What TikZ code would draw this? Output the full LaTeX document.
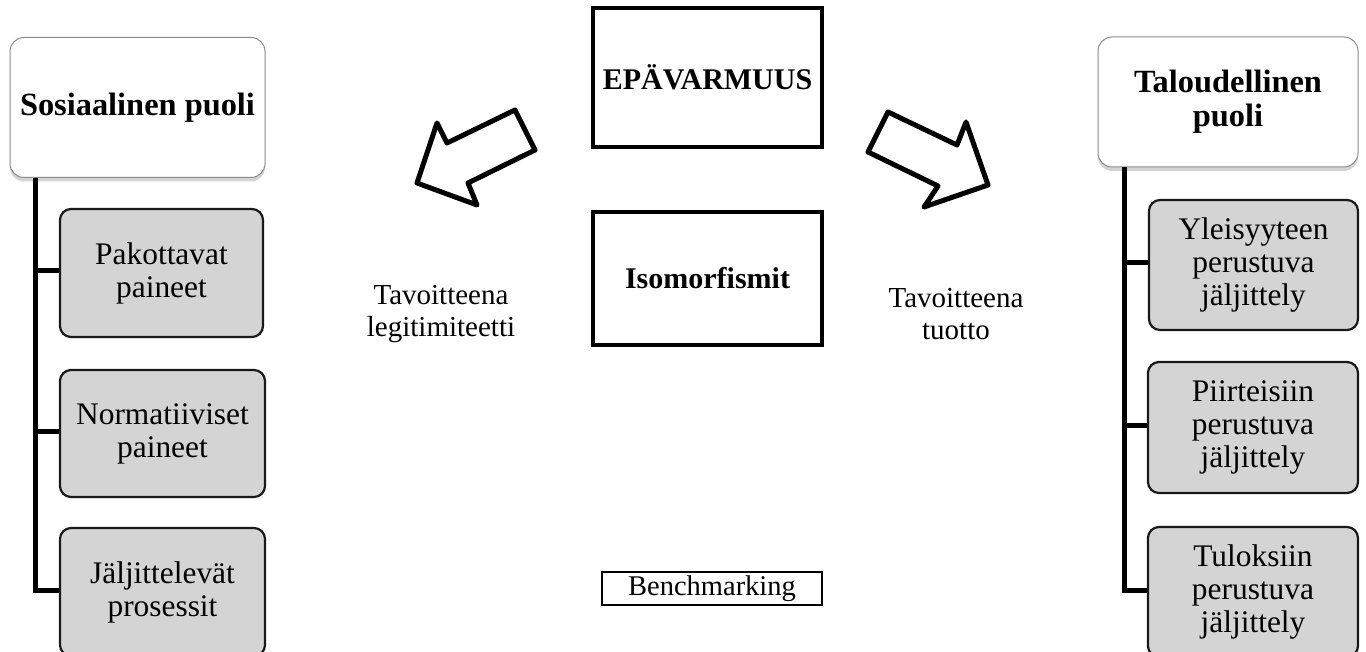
\documentclass[tikz,border=0pt]{standalone}
\usepackage{fontspec}
\setmainfont{Liberation Serif}
\usetikzlibrary{shadows}

\tikzset{
    header/.style={draw=black!45, line width=1pt, fill=white, rounded corners=14pt,
        align=center, font=\fontsize{32.4}{34}\selectfont\bfseries,
        drop shadow={shadow xshift=0pt, shadow yshift=-4pt, opacity=.35}},
    item/.style={draw=black!90, line width=2.2pt, fill=black!17, rounded corners=11pt,
        align=center, font=\fontsize{31.4}{33}\selectfont},
    centerbox/.style={draw, line width=3.5pt, align=center,
        font=\fontsize{30}{32}\selectfont\bfseries},
    goal/.style={align=center, font=\fontsize{29}{32}\selectfont},
    spine/.style={line width=5pt},
    blockarrow/.style={line width=5pt, line join=round, fill=white}
}

\begin{document}
\begin{tikzpicture}[x=1pt, y=-1pt]
    \useasboundingbox (0,0) rectangle (1366,652);

    % left side
    \node[header, minimum width=255pt, minimum height=140pt] (sos) at (137.5,107.5) {Sosiaalinen puoli};
    \node[item, minimum width=203pt, minimum height=128pt] (pak) at (161.5,273) {Pakottavat\\paineet};
    \node[item, minimum width=205pt, minimum height=127pt] (nor) at (162.5,433.5) {Normatiiviset\\paineet};
    \node[item, minimum width=205pt, minimum height=128pt] (jal) at (162.5,592) {Jäljittelevät\\prosessit};

    \coordinate (sl) at (35,178);
    \draw[spine] (sl) |- ([yshift=2pt]jal.west);
    \draw[spine] (sl |- pak.west) ++(0,-2) -- ([yshift=2pt]pak.west);
    \draw[spine] (sl |- nor.west) ++(0,-2) -- ([yshift=2pt]nor.west);

    % right side
    \node[header, minimum width=260pt, minimum height=130pt] (tal) at (1228,102) {Taloudellinen\\puoli};
    \node[item, minimum width=209pt, minimum height=130pt] (yle) at (1253.5,265) {Yleisyyteen\\perustuva\\jäljittely};
    \node[item, minimum width=210pt, minimum height=131pt] (pii) at (1253,427.5) {Piirteisiin\\perustuva\\jäljittely};
    \node[item, minimum width=210pt, minimum height=130pt] (tul) at (1253,592) {Tuloksiin\\perustuva\\jäljittely};

    \coordinate (sr) at (1124,167);
    \draw[spine] (sr) |- ([yshift=2pt]tul.west);
    \draw[spine] (sr |- yle.west) ++(0,-2) -- ([yshift=2pt]yle.west);
    \draw[spine] (sr |- pii.west) ++(0,-2) -- ([yshift=2pt]pii.west);

    % middle
    \node[centerbox, minimum width=229pt, minimum height=139pt] (epa) at (707.5,77.5) {EPÄVARMUUS};
    \node[centerbox, minimum width=229pt, minimum height=133pt] (iso) at (707.5,278.5) {Isomorfismit};
    \node[draw, line width=2pt, minimum width=220pt, minimum height=33pt,
        font=\fontsize{28.5}{30}\selectfont] (ben) at (712,588.5) {Benchmarking};

    \node[goal] (leg) at (441,314) {Tavoitteena\\legitimiteetti};
    \node[goal] (tuo) at (956,314) {Tavoitteena\\tuotto};

    % hollow arrows
    \draw[blockarrow] (515,110) -- (535,150) -- (468,183) -- (477,205) -- (417,183)
        -- (437,123) -- (447,143) -- cycle;
    \draw[blockarrow] (888,112) -- (957,145) -- (966,122) -- (988,185) -- (924,207)
        -- (938,186) -- (868,152) -- cycle;
\end{tikzpicture}
\end{document}
